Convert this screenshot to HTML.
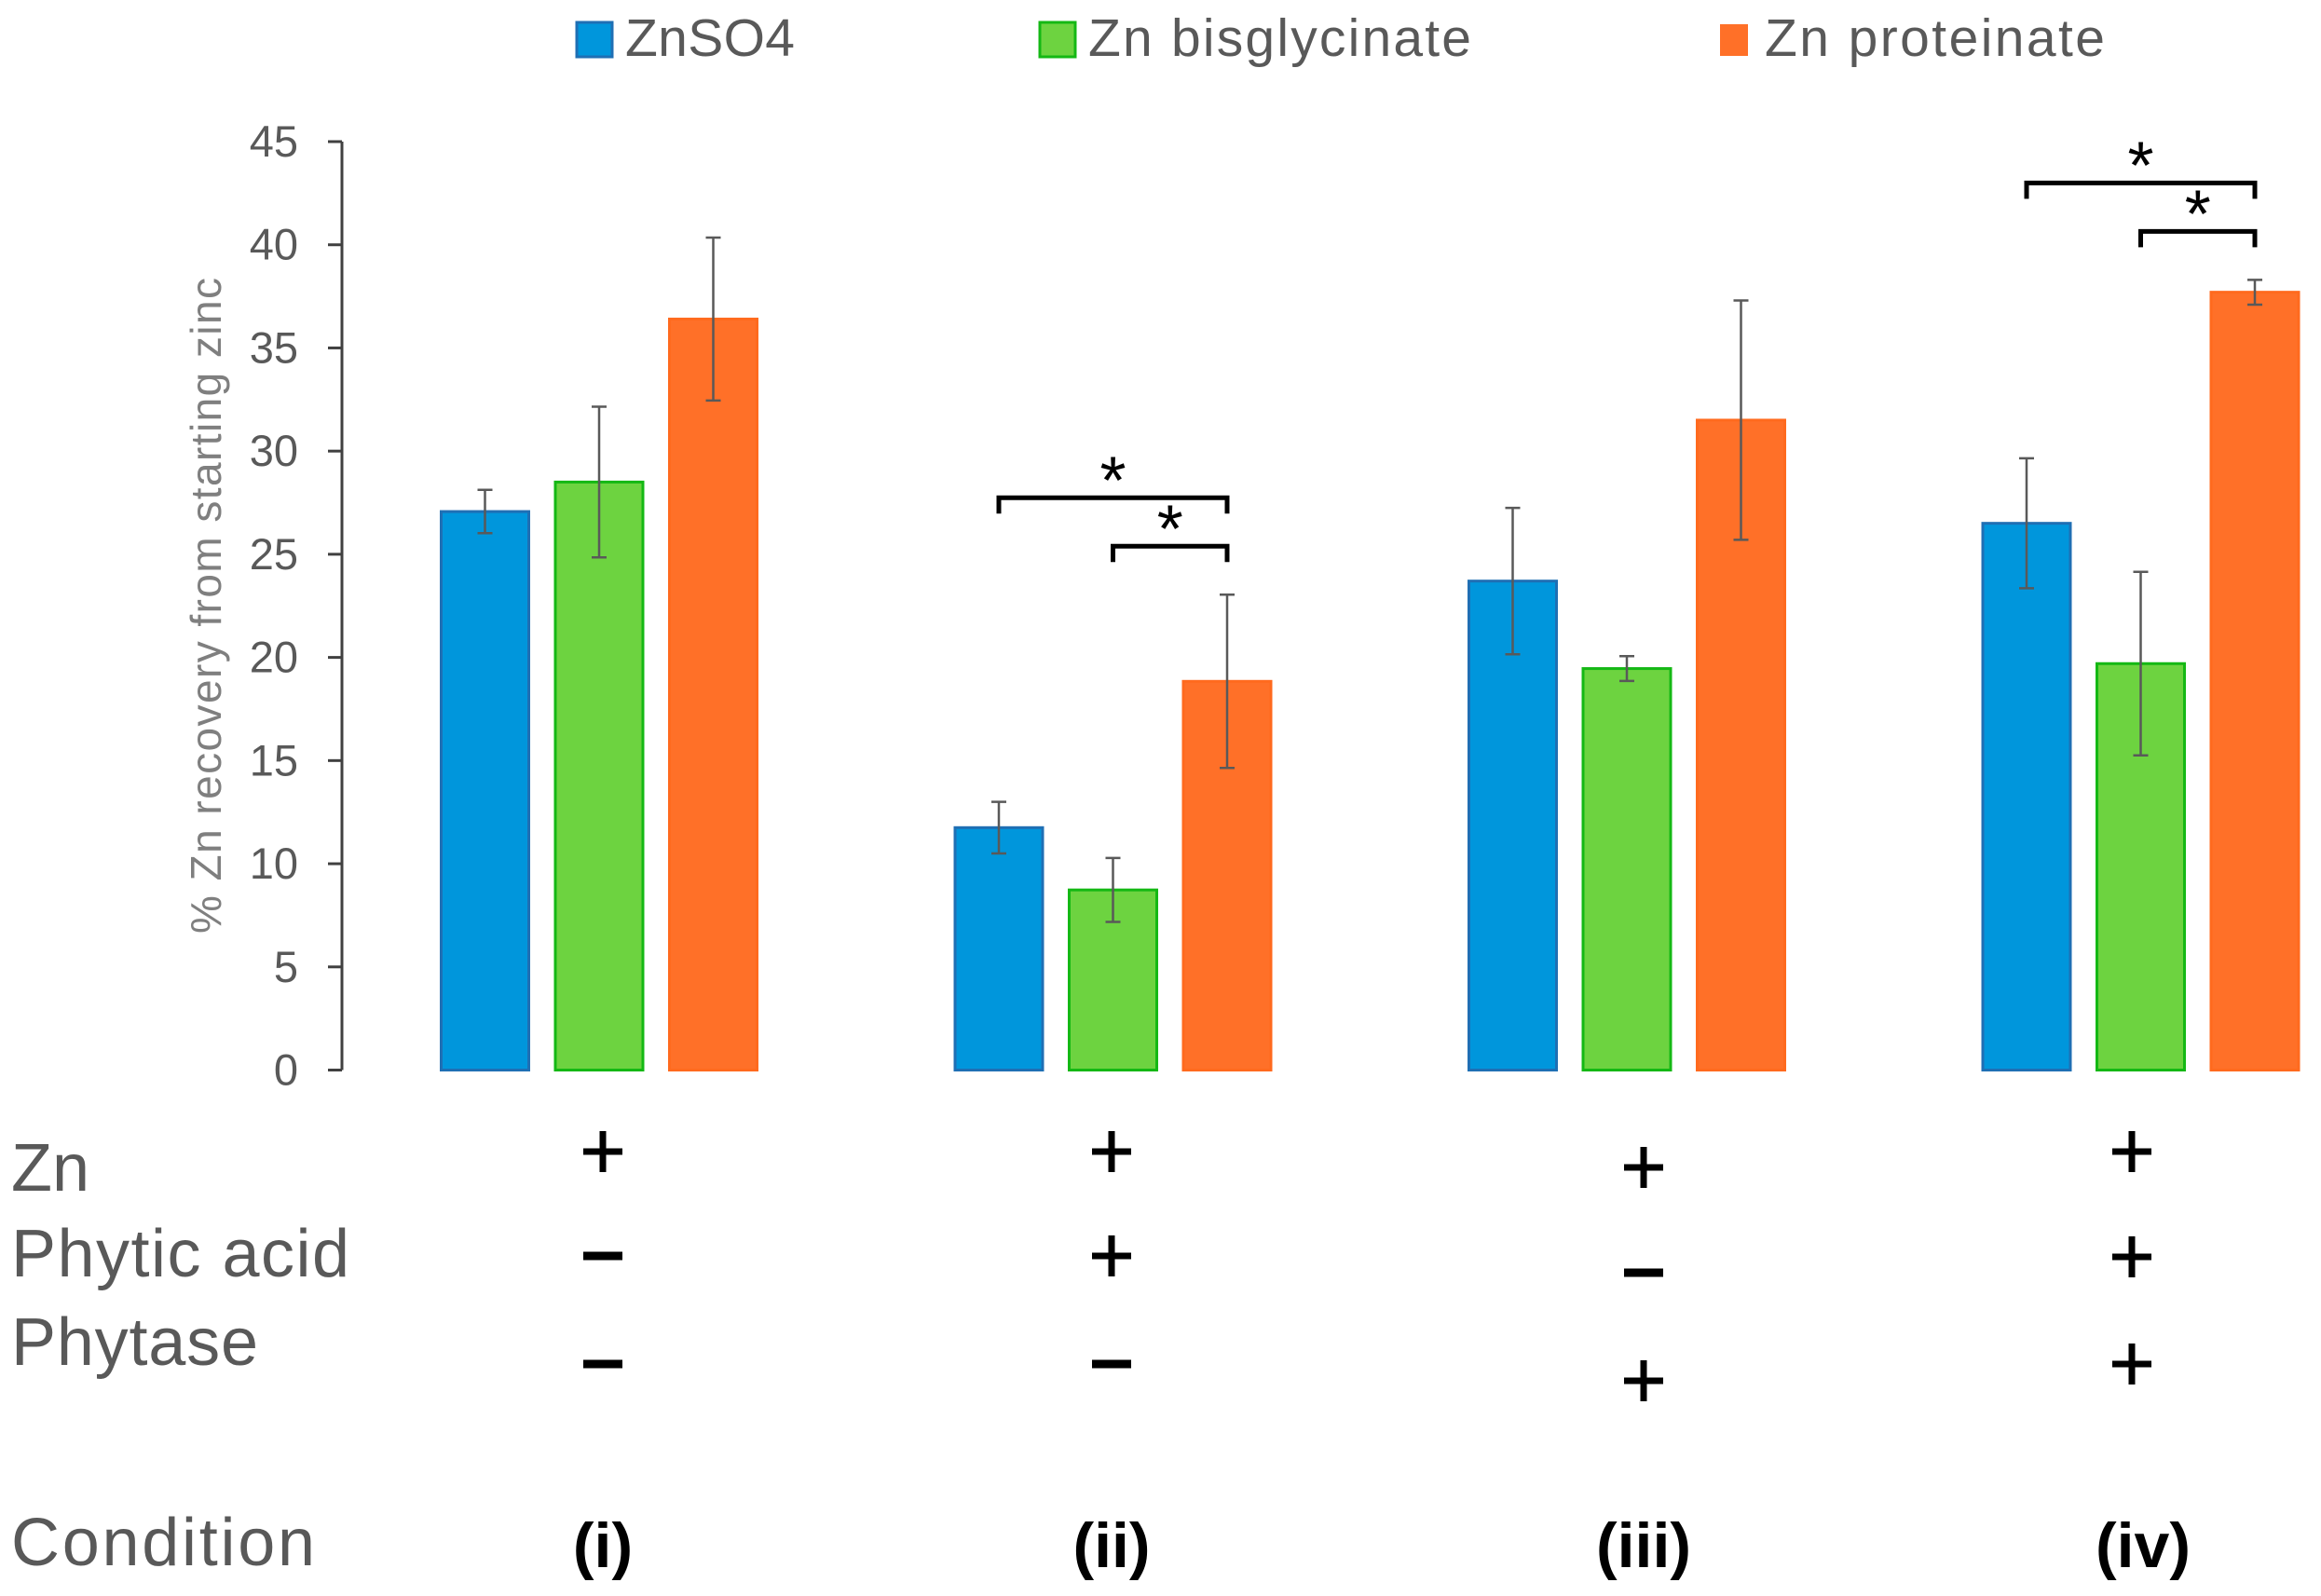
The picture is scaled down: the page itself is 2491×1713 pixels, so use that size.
<!DOCTYPE html>
<html><head><meta charset="utf-8"><style>
html,body{margin:0;padding:0;background:#fff;}
svg{display:block;font-family:"Liberation Sans",sans-serif;}
</style></head><body>
<svg id="chart" width="2491" height="1713" viewBox="0 0 2491 1713">
<g id="legend">
 <g><rect x="619" y="24" width="38" height="37" fill="#0096dc" stroke="#1f6fb4" stroke-width="3"/><text x="671" y="60" font-size="57" fill="#595959" textLength="182">ZnSO4</text></g>
 <g><rect x="1116" y="24" width="38" height="37" fill="#6dd340" stroke="#14b814" stroke-width="3"/><text x="1168" y="60" font-size="57" fill="#595959" textLength="411">Zn bisglycinate</text></g>
 <g><rect x="1846" y="26" width="30" height="34" fill="#ff7028"/><text x="1894" y="60" font-size="57" fill="#595959" textLength="365">Zn proteinate</text></g>
</g>
<g id="axis"></g>
<text transform="translate(237,650) rotate(-90)" text-anchor="middle" font-size="46" fill="#7f7f7f" textLength="704">% Zn recovery from starting zinc</text>
<g id="bars"></g>
<g id="sig"></g>
<g id="table">
 <text x="12" y="1278" font-size="72" fill="#595959">Zn</text>
 <text x="12" y="1370" font-size="72" fill="#595959" textLength="363">Phytic acid</text>
 <text x="12" y="1465" font-size="72" fill="#595959" textLength="265">Phytase</text>
 <text x="12" y="1680" font-size="72" fill="#595959" textLength="326">Condition</text>
</g>
</svg>
<script>
const categories = ["(i)", "(ii)", "(iii)", "(iv)"];
const seriesNames = ["ZnSO4", "Zn bisglycinate", "Zn proteinate"];
const znso4 = [27.07, 11.75, 23.7, 26.5];
const bisglycinate = [28.5, 8.73, 19.46, 19.7];
const proteinate = [36.4, 18.84, 31.5, 37.7];
const znso4Err = [1.05, 1.25, 3.55, 3.15];
const bisglycinateErr = [3.65, 1.55, 0.6, 4.45];
const proteinateErr = [3.95, 4.2, 5.8, 0.6];
const yTicks = [0, 5, 10, 15, 20, 25, 30, 35, 40, 45];
const zinc = ["+", "+", "+", "+"];
const phyticAcid = ["-", "+", "-", "+"];
const phytase = ["-", "-", "+", "+"];
const sigPairs = [[1, 0, 2], [1, 1, 2], [3, 0, 2], [3, 1, 2]];

const NS = "http://www.w3.org/2000/svg";
const Y0 = 1148.5, Y45 = 152;
function yScale(v){ return Y0 - (Y0 - Y45) * v / 45; }
function xCenter(g, s){ return 643 + 551.5 * g + (s - 1) * 122.5; }
function mk(tag, attrs, parent){ const e = document.createElementNS(NS, tag); for (const k in attrs) e.setAttribute(k, attrs[k]); parent.appendChild(e); return e; }

const axis = document.getElementById('axis');
mk('line', {x1:367, y1:Y45, x2:367, y2:Y0, stroke:'#404040', 'stroke-width':3}, axis);
yTicks.forEach(t => {
  const y = yScale(t);
  const tk = mk('line', {x1:352, y1:y, x2:367, y2:y, stroke:'#404040', 'stroke-width':3}, axis);
  
  
  const lb = mk('text', {x:320, y:y + 16, 'text-anchor':'end', 'font-size':47, fill:'#595959'}, axis);
  
  
  lb.textContent = t;
});

const bars = document.getElementById('bars');
const series = [znso4, bisglycinate, proteinate];
const errs = [znso4Err, bisglycinateErr, proteinateErr];
const fills = ['#0096dc', '#6dd340', '#ff7028'];
const strokes = ['#1f6fb4', '#14b814', '#ff6a1e'];
categories.forEach((c, g) => {
  series.forEach((vals, s) => {
    const cx = xCenter(g, s), y = yScale(vals[g]);
    const r = mk('rect', {x:cx - 47, y:y, width:94, height:Y0 - y, fill:fills[s], stroke:strokes[s], 'stroke-width':3}, bars);
    
    
    const hi = yScale(vals[g] + errs[s][g]), lo = yScale(vals[g] - errs[s][g]);
    const eb = mk('path', {d:`M${cx},${hi}V${lo}M${cx-8},${hi}H${cx+8}M${cx-8},${lo}H${cx+8}`, stroke:'#595959', 'stroke-width':2.5, fill:'none'}, bars);
    
    
  });
});

const sig = document.getElementById('sig');
sigPairs.forEach((p, i) => {
  const [g, a, b] = p;
  const top = Math.max(series[b][g] + errs[b][g], series[a][g] + errs[a][g]);
  const level = (i % 2 === 0) ? 2 : 1;
  const y = yScale(top) - (level === 2 ? 104 : 52);
  const x1 = xCenter(g, a), x2 = xCenter(g, b);
  const br = mk('path', {d:`M${x1},${y+17}V${y}H${x2}V${y+17}`, stroke:'#000', 'stroke-width':5, fill:'none'}, sig);
  
  
  const st = mk('text', {x:(x1 + x2) / 2, y:y + 6, 'text-anchor':'middle', 'font-size':72, fill:'#000'}, sig);
  
  
  st.textContent = '*';
});

const table = document.getElementById('table');
const rowsY = [[1236, 1236, 1253, 1236], [1348, 1348, 1366, 1349], [1464, 1464, 1482, 1464]];
const rows = [zinc, phyticAcid, phytase];
const colX = [647, 1193, 1764, 2288];
rows.forEach((row, r) => {
  row.forEach((sym, g) => {
    const cx = colX[g], cy = rowsY[r][g];
    const d = sym === '+' ? `M${cx-21},${cy}H${cx+21}M${cx},${cy-22}V${cy+22}` : `M${cx-21},${cy}H${cx+21}`;
    const m = mk('path', {d:d, stroke:'#000', 'stroke-width':sym === '+' ? 7 : 9, fill:'none'}, table);
    
    
  });
});
const condX = [647, 1193, 1764, 2300];
categories.forEach((c, g) => {
  const t = mk('text', {x:condX[g], y:1682, 'text-anchor':'middle', 'font-size':68, 'font-weight':'bold', fill:'#000'}, table);
  
  
  t.textContent = c;
});
</script>
</body></html>
